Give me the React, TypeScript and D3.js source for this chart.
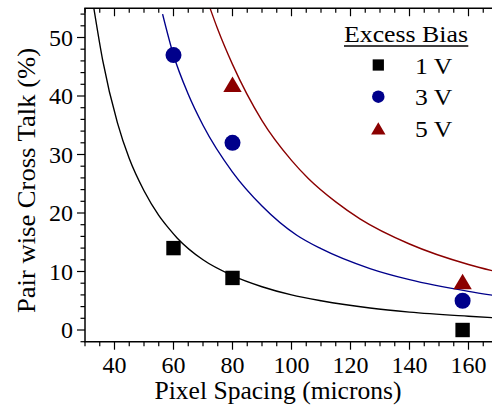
import React from "react";
import * as d3 from "d3";

// Measured markers
const series = ["1 V", "3 V", "5 V"];
const colors = ["#000000", "#00008b", "#8b0000"];
const xs1 = [60, 80, 158];
const ys1 = [14, 8.9, 0];
const xs3 = [60, 80, 158];
const ys3 = [47, 32, 5];
const xs5 = [80, 158];
const ys5 = [42, 8.3];

// Fit curves
const fit1X = [33.0, 36, 41, 45, 50, 55, 58.2, 61.3, 70, 80, 90, 100, 110, 126.6, 140, 160, 170];
const fit1Y = [55, 46.1, 35.4, 29.3, 23.8, 19.6, 17.5, 15.7, 12.0, 9.3, 7.4, 6.0, 5.0, 3.75, 3.05, 2.35, 2.05];
const fit3X = [56.3, 60, 65, 70, 80, 90, 101.8, 110, 126.6, 140, 160, 170];
const fit3Y = [54, 47, 40.3, 35.0, 27.0, 21.2, 16.2, 13.9, 10.5, 8.6, 6.6, 5.8];
const fit5X = [72.4, 75, 80, 90, 100, 105.7, 115, 123.2, 140, 160, 170];
const fit5Y = [55, 51.4, 45.4, 35.8, 29.0, 25.9, 21.9, 19.0, 14.7, 11.2, 9.9];

const xTicksMajor = [40, 60, 80, 100, 120, 140, 160];
const yTicksMajor = [0, 10, 20, 30, 40, 50];

const FONT = "Liberation Serif, Times New Roman, Times, serif";

export default function App() {
  const W = 492, H = 408;
  const x = d3.scaleLinear().domain([30, 170]).range([85, 85 + 140 * 2.95]);
  const y = d3.scaleLinear().domain([-2, 55]).range([341.7, 341.7 - 57 * 5.85]);
  const x0 = x(30), y0 = y(-2), yTop = y(55);

  const line = d3.line<[number, number]>().x(d => x(d[0])).y(d => y(d[1])).curve(d3.curveMonotoneX);
  const fits = [
    d3.zip(fit1X, fit1Y) as [number, number][],
    d3.zip(fit3X, fit3Y) as [number, number][],
    d3.zip(fit5X, fit5Y) as [number, number][],
  ];
  const pts = [
    d3.zip(xs1, ys1) as [number, number][],
    d3.zip(xs3, ys3) as [number, number][],
    d3.zip(xs5, ys5) as [number, number][],
  ];

  const xMinor = d3.range(30, 171, 5);
  const yMinor = d3.range(-2, 55.01, 2);

  const marker = (i: number, cx: number, cy: number, s: number, key: string) => {
    if (i === 0) return <rect key={key} x={cx - s * 0.45} y={cy - s * 0.45} width={s * 0.9} height={s * 0.9} fill={colors[0]} />;
    if (i === 1) return <circle key={key} cx={cx} cy={cy} r={s * 0.5} fill={colors[1]} />;
    const w = s * 1.15, h = s * 0.97;
    return <path key={key} d={`M${cx - w / 2},${cy + h / 2}L${cx + w / 2},${cy + h / 2}L${cx},${cy - h / 2}Z`} fill={colors[2]} />;
  };

  const tf = { fontFamily: FONT };

  return (
    <svg width={W} height={H} style={{ position: "absolute", left: 0, top: 0, fontFamily: FONT }}>
      <rect width={W} height={H} fill="#fff" />
      <defs>
        <clipPath id="plot"><rect x={x0} y={yTop} width={W - x0} height={y0 - yTop} /></clipPath>
      </defs>
      <g clipPath="url(#plot)">
        {fits.map((f, i) => (
          <path key={i} d={line(f) || ""} fill="none" stroke={colors[i]} strokeWidth={1.4} />
        ))}
      </g>
      {pts.map((p, i) => p.map((d, j) => marker(i, x(d[0]), y(d[1]), 16, `m${i}-${j}`)))}
      <line x1={x0} x2={x0} y1={yTop} y2={y0} stroke="#000" strokeWidth={1.5} />
      <line x1={x0 - 0.75} x2={W} y1={y0} y2={y0} stroke="#000" strokeWidth={1.5} />
      <line x1={x0 - 0.75} x2={W} y1={yTop} y2={yTop} stroke="#000" strokeWidth={1.5} />
      {xMinor.map(v => {
        const maj = v % 20 === 0;
        return (
          <g key={`xt${v}`}>
            <line x1={x(v)} x2={x(v)} y1={y0} y2={y0 + (maj ? 8 : 4.5)} stroke="#000" strokeWidth={1.2} />
            <line x1={x(v)} x2={x(v)} y1={yTop} y2={yTop + (maj ? 8 : 4.5)} stroke="#000" strokeWidth={1.2} />
          </g>
        );
      })}
      {xTicksMajor.map(v => (
        <text key={`xl${v}`} style={tf} x={x(v)} y={372.5} textAnchor="middle" fontSize={24}>{v}</text>
      ))}
      {yMinor.map(v => {
        const maj = Math.abs(v % 10) < 1e-6;
        return <line key={`yt${v}`} x1={x0 - (maj ? 8 : 4.5)} x2={x0} y1={y(v)} y2={y(v)} stroke="#000" strokeWidth={1.2} />;
      })}
      {yTicksMajor.map(v => (
        <text key={`yl${v}`} style={tf} x={73} y={y(v) + 8.3} textAnchor="end" fontSize={24}>{v}</text>
      ))}
      <text style={tf} x={278} y={399.3} textAnchor="middle" fontSize={25} textLength={247} lengthAdjust="spacingAndGlyphs">Pixel Spacing (microns)</text>
      <text style={tf} transform={`translate(35,180.5) rotate(-90)`} textAnchor="middle" fontSize={25} textLength={265} lengthAdjust="spacingAndGlyphs">Pair wise Cross Talk (%)</text>
      <text style={tf} x={344} y={41.7} fontSize={22.7} textLength={124} lengthAdjust="spacingAndGlyphs">Excess Bias</text>
      <line x1={344} x2={468.3} y1={46} y2={46} stroke="#000" strokeWidth={1.6} />
      {series.map((s, i) => (
        <g key={`lg${i}`}>
          {marker(i, 378.3, 65 + i * 31.7, 12.5, `lm${i}`)}
          <text style={tf} x={415} y={73.5 + i * 31.7} fontSize={22.7} textLength={37.3} lengthAdjust="spacingAndGlyphs">{s}</text>
        </g>
      ))}
    </svg>
  );
}
